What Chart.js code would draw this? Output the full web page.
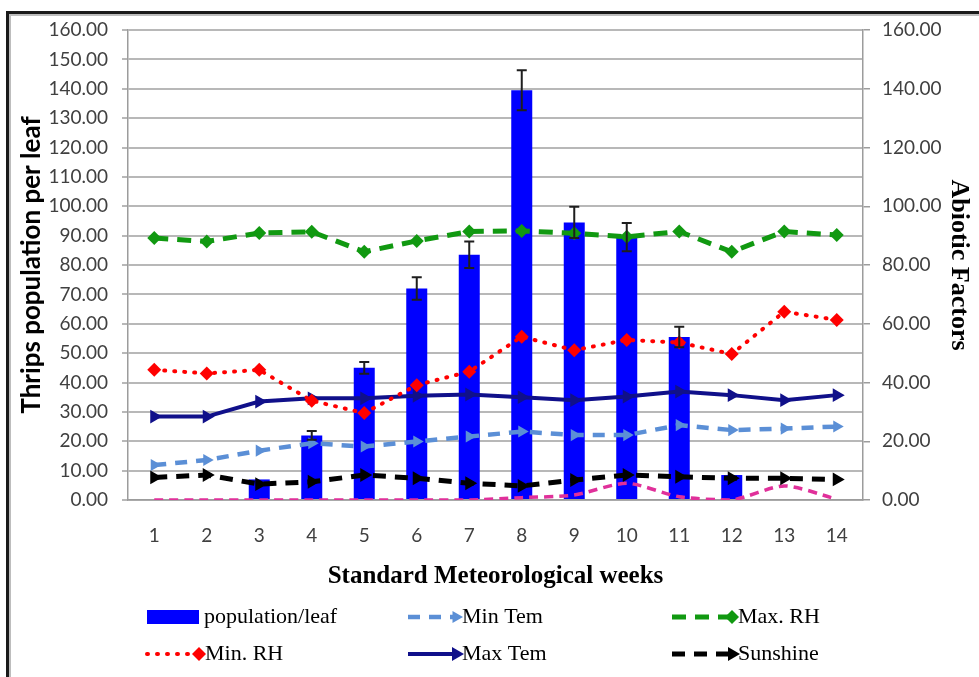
<!DOCTYPE html>
<html>
<head>
<meta charset="utf-8">
<script src="https://cdn.jsdelivr.net/npm/chart.js@4.4.1/dist/chart.umd.min.js"></script>
<style>
  html, body { margin: 0; padding: 0; background: #ffffff; }
  #wrap { position: relative; width: 979px; height: 677px; overflow: hidden; }
  #frame { position: absolute; left: 6px; top: 11px; width: 1000px; height: 700px;
           border-left: 3px solid #1a1a1a; border-top: 3px solid #1a1a1a;
           box-shadow: inset 2px 2px 0 #bdbdbd; pointer-events: none; }
  canvas { position: absolute; left: 0; top: 0; }
</style>
</head>
<body>
<div id="wrap">
  <canvas id="c" width="979" height="677"></canvas>
  <div id="frame"></div>
</div>
<script>
// ---- data ----
const weeks = ['1','2','3','4','5','6','7','8','9','10','11','12','13','14'];
const population = [0, 0, 7, 22, 45, 72, 83.5, 139.5, 94.5, 89.5, 55.5, 8.5, 0, 0];
const populationErr = [0, 0, 0, 1.5, 2, 3.8, 4.5, 6.8, 5.3, 4.8, 3.5, 0, 0, 0];
const minTem = [11.9, 13.6, 16.8, 19.3, 18.2, 19.9, 21.6, 23.3, 22.1, 22.1, 25.5, 23.8, 24.3, 25.0];
const maxRH = [89.2, 88.0, 90.9, 91.3, 84.5, 88.2, 91.4, 91.6, 90.8, 89.6, 91.4, 84.5, 91.4, 90.2];
const minRH = [44.3, 43.1, 44.3, 33.8, 29.6, 39.1, 43.7, 55.6, 51.0, 54.5, 53.6, 49.7, 64.1, 61.3];
const maxTem = [28.4, 28.4, 33.5, 34.6, 34.6, 35.5, 35.9, 35.0, 34.0, 35.2, 36.9, 35.7, 34.0, 35.7];
const sunshine = [7.7, 8.5, 5.4, 6.2, 8.5, 7.4, 5.7, 4.8, 6.8, 8.5, 7.9, 7.4, 7.4, 7.0];
const rainfall = [0, 0, 0, 0, 0, 0, 0, 0.8, 1.7, 5.7, 1.1, 0, 4.8, 0.3];
const leftTicksStep = 10;
const rightTicksStep = 20;
const axisMax = 160;
const legendOrder = ['population/leaf', 'Min Tem', 'Max. RH', 'Min. RH', 'Max Tem', 'Sunshine'];

const tickFont = { family: 'Lato, "Liberation Sans", sans-serif', size: 19 };
const tickColor = '#404040';
const axisLineColor = '#9c9c9c';
const gridColor = '#b8b8b8';

const errorBarPlugin = {
  id: 'errorBars',
  afterDatasetsDraw(chart) {
    const meta = chart.getDatasetMeta(0);
    const ys = chart.scales.y;
    const ctx = chart.ctx;
    ctx.save();
    ctx.strokeStyle = '#1e1e1e';
    ctx.lineWidth = 2;
    meta.data.forEach((el, i) => {
      const e = populationErr[i];
      if (!e) return;
      const v = population[i];
      const yt = ys.getPixelForValue(v + e);
      const yb = ys.getPixelForValue(v - e);
      ctx.beginPath();
      ctx.moveTo(el.x, yt); ctx.lineTo(el.x, yb);
      ctx.moveTo(el.x - 5, yt); ctx.lineTo(el.x + 5, yt);
      ctx.moveTo(el.x - 5, yb); ctx.lineTo(el.x + 5, yb);
      ctx.stroke();
    });
    ctx.restore();
  }
};

function drawMarker(ctx, style, x, y, r, color, rot) {
  ctx.save();
  ctx.fillStyle = color;
  ctx.strokeStyle = color;
  ctx.setLineDash([]);
  ctx.translate(x, y);
  ctx.rotate((rot || 0) * Math.PI / 180);
  ctx.beginPath();
  if (style === 'rectRot') {
    ctx.moveTo(0, -r); ctx.lineTo(r, 0); ctx.lineTo(0, r); ctx.lineTo(-r, 0);
  } else {
    ctx.moveTo(0, -r); ctx.lineTo(r * 0.87, r * 0.5); ctx.lineTo(-r * 0.87, r * 0.5);
  }
  ctx.closePath();
  ctx.fill();
  ctx.restore();
}

const legendPlugin = {
  id: 'gridLegend',
  afterDraw(chart) {
    const ctx = chart.ctx;
    const cols = [147, 408, 672];
    const rows = [617, 654];
    const sampleW = [50, 46, 58];
    ctx.save();
    legendOrder.forEach((label, k) => {
      const ds = chart.data.datasets.find(d => d.label === label);
      const col = k % 3, row = Math.floor(k / 3);
      const x0 = cols[col], y = rows[row];
      let tx;
      if (ds.type === 'bar') {
        ctx.fillStyle = ds.backgroundColor;
        ctx.fillRect(x0, y - 7, 52, 14);
        tx = x0 + 57;
      } else {
        const w = sampleW[col];
        ctx.strokeStyle = ds.borderColor;
        ctx.lineWidth = ds.borderWidth;
        ctx.lineCap = ds.borderCapStyle || 'butt';
        ctx.setLineDash(ds.borderDash || []);
        ctx.beginPath();
        ctx.moveTo(x0, y); ctx.lineTo(x0 + w, y);
        ctx.stroke();
        drawMarker(ctx, ds.pointStyle, x0 + w + 2, y, ds.pointRadius, ds.pointBackgroundColor, ds.pointRotation);
        tx = x0 + w + 8;
      }
      ctx.setLineDash([]);
      ctx.fillStyle = '#000';
      ctx.font = '22px "Liberation Serif", "Times New Roman", serif';
      ctx.textBaseline = 'middle';
      ctx.textAlign = 'left';
      ctx.fillText(label, tx, y);
    });
    ctx.restore();
  }
};

const bgPlugin = {
  id: 'bg',
  beforeDraw(chart) {
    const ctx = chart.ctx;
    ctx.save();
    ctx.fillStyle = '#fff';
    ctx.fillRect(0, 0, chart.width, chart.height);
    ctx.restore();
  }
};

new Chart(document.getElementById('c'), {
  data: {
    labels: weeks,
    datasets: [
      { type: 'bar', label: 'population/leaf', data: population, yAxisID: 'y',
        backgroundColor: '#0000ff', borderColor: '#0000cc', borderWidth: 0,
        barPercentage: 0.4, categoryPercentage: 1.0, order: 10 },
      { type: 'line', label: 'Rainfall', data: rainfall, yAxisID: 'y1',
        borderColor: '#e0309a', borderWidth: 3.5, borderDash: [9, 6], pointRadius: 0,
        tension: 0.25, order: 6 },
      { type: 'line', label: 'Sunshine', data: sunshine, yAxisID: 'y1',
        borderColor: '#000000', borderWidth: 5, borderDash: [13, 9], pointStyle: 'triangle',
        pointRotation: 90, pointRadius: 8, pointBackgroundColor: '#000000', pointBorderWidth: 0,
        tension: 0, order: 5 },
      { type: 'line', label: 'Min Tem', data: minTem, yAxisID: 'y1',
        borderColor: '#5b8fd6', borderWidth: 4.5, borderDash: [12, 9], pointStyle: 'triangle',
        pointRotation: 90, pointRadius: 7, pointBackgroundColor: '#5b8fd6', pointBorderWidth: 0,
        tension: 0, order: 4 },
      { type: 'line', label: 'Max Tem', data: maxTem, yAxisID: 'y1',
        borderColor: '#10108a', borderWidth: 4, pointStyle: 'triangle',
        pointRotation: 90, pointRadius: 8, pointBackgroundColor: '#10108a', pointBorderWidth: 0,
        tension: 0, order: 3 },
      { type: 'line', label: 'Min. RH', data: minRH, yAxisID: 'y1',
        borderColor: '#ff0000', borderWidth: 4, borderDash: [1, 9], borderCapStyle: 'round',
        pointStyle: 'rectRot', pointRadius: 7, pointBackgroundColor: '#ff0000', pointBorderWidth: 0,
        tension: 0, order: 2 },
      { type: 'line', label: 'Max. RH', data: maxRH, yAxisID: 'y1',
        borderColor: '#119911', borderWidth: 5, borderDash: [14, 9], pointStyle: 'rectRot',
        pointRadius: 7, pointBackgroundColor: '#119911', pointBorderWidth: 0,
        tension: 0, order: 1 }
    ]
  },
  options: {
    responsive: false,
    animation: false,
    devicePixelRatio: 1,
    layout: { padding: { top: 30, left: 0, right: 0, bottom: 0 } },
    plugins: { legend: { display: false }, tooltip: { enabled: false } },
    scales: {
      x: {
        offset: true,
        grid: { display: false, drawTicks: false },
        border: { color: axisLineColor, width: 1.5 },
        ticks: { padding: 24, font: tickFont, color: tickColor },
        title: { display: true, text: 'Standard Meteorological weeks', color: '#000',
                 font: { family: '"Liberation Serif", serif', size: 25, weight: 'bold' },
                 padding: { top: 0, bottom: 85 } },
        afterFit(s) { s.height = 177; }
      },
      y: {
        position: 'left', min: 0, max: axisMax,
        ticks: { stepSize: leftTicksStep, padding: 14, font: tickFont, color: tickColor,
                 callback: v => Number(v).toFixed(2) },
        grid: { color: gridColor, lineWidth: 2, tickLength: 6 },
        border: { color: axisLineColor, width: 1.5 },
        title: { display: true, text: 'Thrips population per leaf', color: '#000', align: 'center',
                 font: { family: 'Lato, "Liberation Sans", sans-serif', size: 26, weight: 'bold' },
                 padding: { top: 16, bottom: 0 } },
        afterFit(s) { s.width = 128; }
      },
      y1: {
        position: 'right', min: 0, max: axisMax,
        ticks: { stepSize: rightTicksStep, padding: 12, font: tickFont, color: tickColor,
                 callback: v => Number(v).toFixed(2) },
        grid: { drawOnChartArea: false, color: axisLineColor, lineWidth: 1.5, tickLength: 7 },
        border: { color: axisLineColor, width: 1.5 },
        title: { display: true, text: 'Abiotic Factors', color: '#000',
                 font: { family: '"Liberation Serif", serif', size: 26, weight: 'bold' },
                 padding: { top: 5, bottom: 0 } },
        afterFit(s) { s.width = 116; }
      }
    }
  },
  plugins: [bgPlugin, errorBarPlugin, legendPlugin]
});
</script>
</body>
</html>
